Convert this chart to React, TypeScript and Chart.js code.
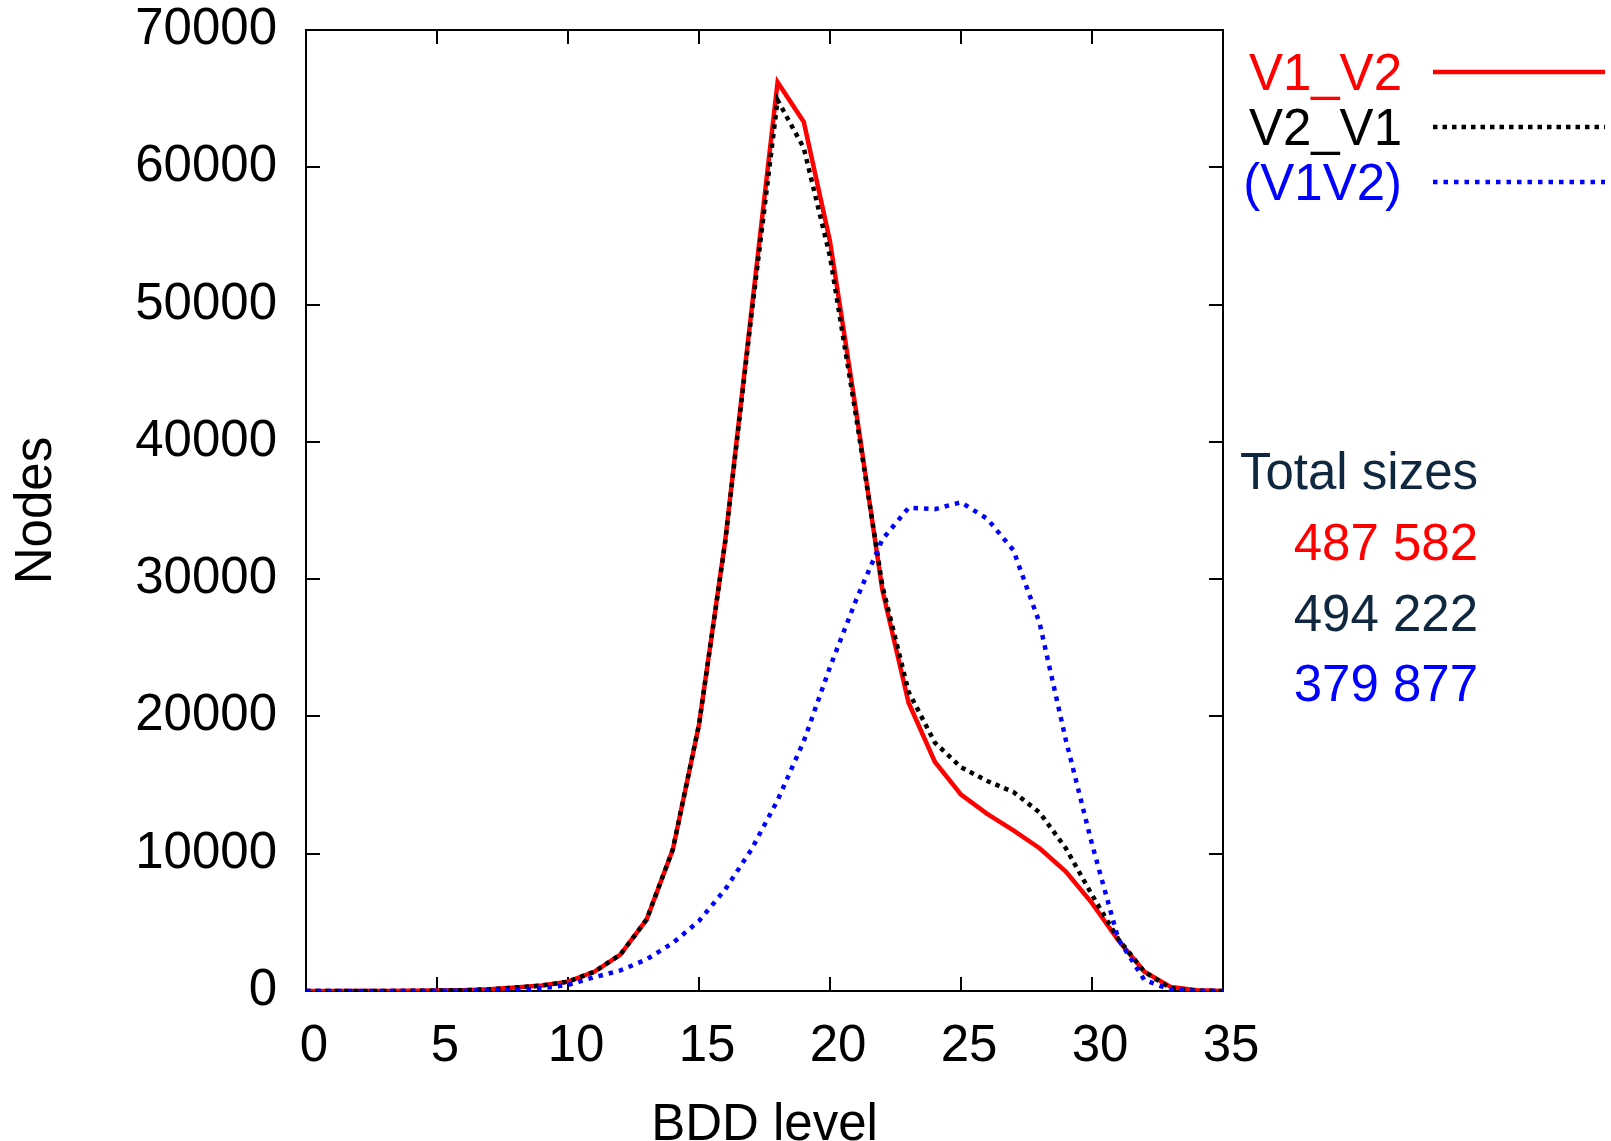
import { useEffect, useRef } from 'react';
import { Chart, registerables } from 'chart.js';

Chart.register(...registerables);

// ---- data ----
const levels = [0, 1, 2, 3, 4, 5, 6, 7, 8, 9, 10, 11, 12, 13, 14, 15, 16, 17, 18, 19, 20, 21, 22, 23, 24, 25, 26, 27, 28, 29, 30, 31, 32, 33, 34, 35];
const v1v2 = [0, 0, 0, 0, 10, 30, 60, 120, 250, 400, 680, 1400, 2650, 5200, 10300, 19400, 32800, 49500, 66200, 63300, 54600, 42200, 29200, 21000, 16700, 14300, 12900, 11700, 10400, 8700, 6400, 3700, 1400, 300, 50, 0];
const v2v1 = [0, 0, 0, 0, 10, 30, 60, 120, 250, 400, 680, 1400, 2650, 5200, 10300, 19400, 32700, 49200, 64900, 61400, 53500, 41800, 29500, 21800, 18100, 16300, 15300, 14500, 13000, 10400, 7000, 3800, 1400, 200, 30, 0];
const v1v2Joint = [0, 0, 0, 0, 0, 10, 20, 40, 90, 200, 450, 1000, 1500, 2300, 3500, 5100, 7400, 10300, 13900, 18200, 23600, 28500, 32900, 35200, 35100, 35600, 34400, 32100, 26800, 18300, 10700, 3800, 800, 100, 0, 0];

const seriesNames = ['V1_V2', 'V2_V1', '(V1V2)'];
const seriesColors = ['#ff0000', '#000000', '#0000ff'];
const totalsTitle = 'Total sizes';
const totalsText = ['487 582', '494 222', '379 877'];
const totalsColors = ['#ff0000', '#0f2840', '#0000ff'];
const xTitle = 'BDD level';
const yTitle = 'Nodes';

const FONT = '"Liberation Sans", Arial, Helvetica, sans-serif';
const FS = 51;

const toPoints = (vals: number[]) => levels.map((l, i) => ({ x: l, y: vals[i] }));

const framePlugin = {
  id: 'frame',
  beforeDatasetsDraw(chart: any) {
    const { ctx, chartArea: a, scales } = chart;
    ctx.save();
    ctx.strokeStyle = '#000';
    ctx.lineWidth = 2;
    ctx.strokeRect(a.left, a.top, a.right - a.left, a.bottom - a.top);
    const L = 14;
    ctx.beginPath();
    scales.x.ticks.forEach((t: any) => {
      const px = Math.round(scales.x.getPixelForValue(t.value));
      ctx.moveTo(px, a.bottom);
      ctx.lineTo(px, a.bottom - L);
      ctx.moveTo(px, a.top);
      ctx.lineTo(px, a.top + L);
    });
    scales.y.ticks.forEach((t: any) => {
      const py = Math.round(scales.y.getPixelForValue(t.value));
      ctx.moveTo(a.left, py);
      ctx.lineTo(a.left + L, py);
      ctx.moveTo(a.right, py);
      ctx.lineTo(a.right - L, py);
    });
    ctx.stroke();
    ctx.restore();
  },
};

const sideTextPlugin = {
  id: 'sideText',
  afterDraw(chart: any) {
    const { ctx } = chart;
    ctx.save();
    ctx.font = `${FS}px ${FONT}`;
    ctx.textBaseline = 'middle';
    ctx.textAlign = 'right';
    chart.data.datasets.forEach((ds: any, i: number) => {
      const y = 72 + i * 55;
      ctx.fillStyle = seriesColors[i];
      ctx.fillText(seriesNames[i], 1402, y + 4);
      ctx.beginPath();
      ctx.strokeStyle = ds.borderColor;
      ctx.lineWidth = ds.borderWidth;
      ctx.setLineDash(ds.borderDash || []);
      ctx.moveTo(1433, y);
      ctx.lineTo(1605, y);
      ctx.stroke();
      ctx.setLineDash([]);
    });
    ctx.fillStyle = '#0f2840';
    ctx.fillText(totalsTitle, 1478, 475);
    totalsText.forEach((t, i) => {
      ctx.fillStyle = totalsColors[i];
      ctx.fillText(t, 1478, 546 + i * 70.5);
    });
    ctx.restore();
  },
};

export default function App() {
  const ref = useRef<HTMLCanvasElement>(null);
  useEffect(() => {
    if (!ref.current) return;
    const chart = new Chart(ref.current, {
      type: 'line',
      data: {
        datasets: [
          {
            label: seriesNames[0],
            data: toPoints(v1v2),
            borderColor: seriesColors[0],
            borderWidth: 4.5,
            pointRadius: 0,
            tension: 0,
            borderJoinStyle: 'miter',
            fill: false,
            order: 3,
          },
          {
            label: seriesNames[1],
            data: toPoints(v2v1),
            borderColor: seriesColors[1],
            borderWidth: 4.5,
            borderDash: [4.5, 5],
            pointRadius: 0,
            tension: 0,
            fill: false,
            order: 2,
          },
          {
            label: seriesNames[2],
            data: toPoints(v1v2Joint),
            borderColor: seriesColors[2],
            borderWidth: 4.5,
            borderDash: [4.5, 6],
            pointRadius: 0,
            tension: 0,
            fill: false,
            order: 1,
          },
        ],
      },
      options: {
        animation: false,
        responsive: false,
        devicePixelRatio: 1,
        layout: { padding: { left: 0, top: 30, right: 388, bottom: 0 } },
        plugins: { legend: { display: false }, tooltip: { enabled: false } },
        scales: {
          x: {
            type: 'linear',
            min: 0,
            max: 35,
            grid: { display: false },
            border: { display: false },
            ticks: {
              stepSize: 5,
              autoSkip: false,
              maxRotation: 0,
              padding: 17,
              labelOffset: 8,
              color: '#000',
              font: { family: FONT, size: FS },
            },
            title: {
              display: true,
              text: xTitle,
              color: '#000',
              font: { family: FONT, size: FS, lineHeight: 0.6 },
              padding: { top: 0, bottom: 0 },
            },
            afterFit: (s: any) => {
              s.height = 150;
            },
          },
          y: {
            type: 'linear',
            min: 0,
            max: 70000,
            grid: { display: false },
            border: { display: false },
            ticks: {
              stepSize: 10000,
              autoSkip: false,
              padding: 21,
              color: '#000',
              font: { family: FONT, size: FS },
              callback: (v: any) => String(v),
            },
            title: {
              display: true,
              text: yTitle,
              color: '#000',
              font: { family: FONT, size: FS, lineHeight: 0.8 },
              padding: { top: 17, bottom: 0 },
            },
            afterFit: (s: any) => {
              s.width = 306;
              s.paddingTop = 0;
              s.paddingBottom = 0;
            },
          },
        },
      },
      plugins: [framePlugin, sideTextPlugin],
    } as any);
    return () => chart.destroy();
  }, []);
  return (
    <div style={{ position: 'fixed', left: 0, top: 0, width: 1611, height: 1141, background: '#fff' }}>
      <canvas ref={ref} width={1611} height={1141} style={{ display: 'block' }} />
    </div>
  );
}
